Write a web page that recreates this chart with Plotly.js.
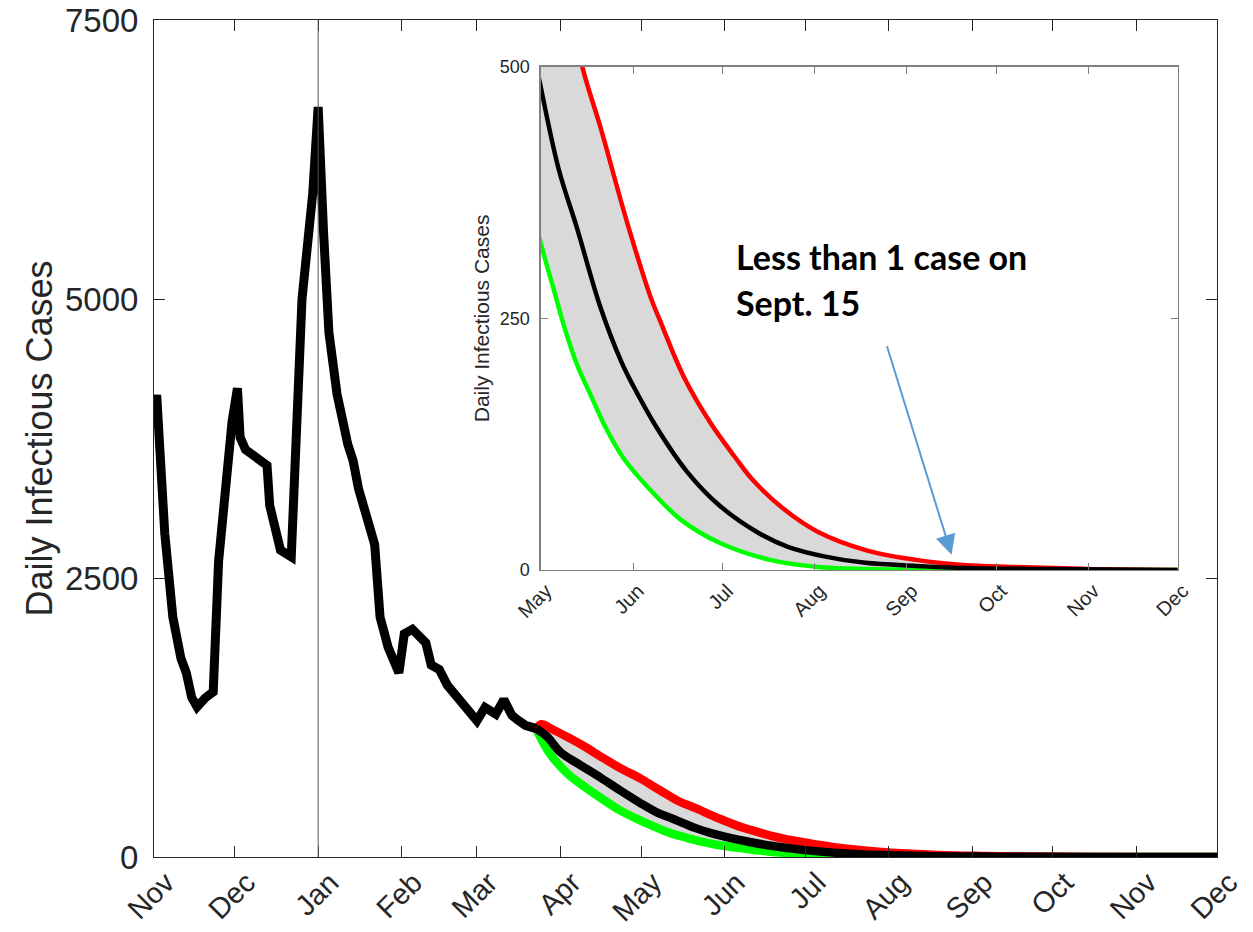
<!DOCTYPE html>
<html><head><meta charset="utf-8">
<script src="https://cdn.plot.ly/plotly-3.0.1.min.js"></script>
<style>html,body{margin:0;padding:0;background:#fff}#chart{width:1253px;height:932px}</style>
</head><body><div id="chart"></div>
<script>
// Observed daily infectious cases (black)
const histDates = ['2020-11-01','2020-11-02','2020-11-05','2020-11-08','2020-11-11','2020-11-13','2020-11-15','2020-11-17','2020-11-20','2020-11-23','2020-11-25','2020-11-28','2020-11-30','2020-12-02','2020-12-03','2020-12-05','2020-12-08','2020-12-11','2020-12-13','2020-12-14','2020-12-16','2020-12-18','2020-12-22','2020-12-23','2020-12-24','2020-12-26','2020-12-30','2021-01-01','2021-01-03','2021-01-05','2021-01-08','2021-01-11','2021-01-12','2021-01-14','2021-01-16','2021-01-19','2021-01-22','2021-01-24','2021-01-27','2021-01-31','2021-02-02','2021-02-05','2021-02-07','2021-02-10','2021-02-12','2021-02-15','2021-02-18','2021-02-20','2021-02-24','2021-03-01','2021-03-04','2021-03-08','2021-03-11','2021-03-14','2021-03-16','2021-03-19','2021-03-23'];
const histCases = [3960,4140,2900,2150,1780,1650,1430,1345,1425,1480,2650,3450,3900,4200,3760,3650,3600,3540,3510,3150,2900,2750,2690,3300,4100,5000,5950,6720,5600,4700,4150,3800,3700,3550,3300,3050,2800,2150,1880,1650,2000,2040,2000,1920,1720,1680,1540,1480,1380,1220,1340,1280,1410,1270,1230,1180,1150];

// Projection: median (black)
const midDates = ['2021-03-23','2021-03-27','2021-04-01','2021-04-08','2021-04-16','2021-04-23','2021-05-01','2021-05-07','2021-05-13','2021-05-21','2021-05-28','2021-06-01','2021-06-09','2021-06-19','2021-06-30','2021-07-13','2021-07-23','2021-08-05','2021-08-18','2021-09-04','2021-09-20','2021-10-15','2021-12-01'];
const midCases = [1150,1080,940,830,710,600,479,398,341,261,207,183,141,98,64,37,23,13,7,4,2,1,0];

// Projection: lower bound (green)
const lowDates = ['2021-03-23','2021-03-28','2021-04-04','2021-04-10','2021-04-16','2021-04-23','2021-05-01','2021-05-05','2021-05-09','2021-05-13','2021-05-18','2021-05-23','2021-05-29','2021-06-06','2021-06-17','2021-06-30','2021-07-17','2021-08-02','2021-08-19','2021-09-15','2021-12-01'];
const lowCases = [1150,930,740,630,530,420,324,282,240,205,172,140,110,82,50,27,10,3,1,0,0];

// Projection: upper bound (red)
const highDates = ['2021-03-23','2021-03-25','2021-03-29','2021-04-04','2021-04-10','2021-04-16','2021-04-23','2021-05-01','2021-05-08','2021-05-15','2021-05-21','2021-05-30','2021-06-07','2021-06-10','2021-06-18','2021-06-27','2021-07-05','2021-07-11','2021-07-21','2021-08-02','2021-08-19','2021-09-04','2021-09-20','2021-10-06','2021-10-31','2021-12-01'];
const highCases = [1150,1190,1145,1070,990,900,800,700,598,499,440,345,270,248,192,146,113,90,62,38,19,10,5,3,1,0];

// Axis ticks
const mainTickVals = ['2020-11-01','2020-12-01','2021-01-01','2021-02-01','2021-03-01','2021-04-01','2021-05-01','2021-06-01','2021-07-01','2021-08-01','2021-09-01','2021-10-01','2021-11-01','2021-12-01'];
const mainTickText = ['Nov','Dec','Jan','Feb','Mar','Apr','May','Jun','Jul','Aug','Sep','Oct','Nov','Dec'];
const insetTickVals = ['2021-05-01','2021-06-01','2021-07-01','2021-08-01','2021-09-01','2021-10-01','2021-11-01','2021-12-01'];
const insetTickText = ['May','Jun','Jul','Aug','Sep','Oct','Nov','Dec'];
const mainYTicks = [0,2500,5000,7500];
const insetYTicks = [0,250,500];

const RED='#ff0000', GREEN='#00ff00', BLACK='#000000', BAND='#d9d9d9';
const bandX = highDates.concat(lowDates.slice().reverse());
const bandY = highCases.concat(lowCases.slice().reverse());

function projTraces(xa, ya, w){
  return [
    {x: bandX, y: bandY, xaxis: xa, yaxis: ya, type:'scatter', mode:'lines', fill:'toself', fillcolor: BAND, line:{width:0, color: BAND, shape:'spline', smoothing:1}, hoverinfo:'skip'},
    {x: lowDates, y: lowCases, xaxis: xa, yaxis: ya, type:'scatter', mode:'lines', line:{color: GREEN, width: w, shape:'spline', smoothing:1}},
    {x: highDates, y: highCases, xaxis: xa, yaxis: ya, type:'scatter', mode:'lines', line:{color: RED, width: w, shape:'spline', smoothing:1}},
    {x: midDates, y: midCases, xaxis: xa, yaxis: ya, type:'scatter', mode:'lines', line:{color: BLACK, width: w, shape:'spline', smoothing:1}}
  ];
}

const traces = [].concat(
  projTraces('x','y',8.5),
  [{x: histDates, y: histCases, xaxis:'x', yaxis:'y', type:'scatter', mode:'lines', line:{color: BLACK, width: 9}}],
  projTraces('x2','y2',4.5)
);

const FONT = 'Liberation Sans, Arial, Helvetica, sans-serif';
const layout = {
  width:1253, height:932,
  margin:{l:154, r:36, t:20, b:75},
  paper_bgcolor:'#ffffff', plot_bgcolor:'#ffffff',
  showlegend:false,
  font:{family: FONT, color:'#262626'},
  xaxis:{
    type:'date', domain:[0,1], anchor:'y',
    range:['2020-11-01','2021-12-01'],
    tickmode:'array', tickvals: mainTickVals, ticktext: mainTickText,
    tickangle:-45, tickfont:{size:29, color:'#262626'}, ticklabelshift:12, ticklabelstandoff:-4,
    ticks:'inside', ticklen:11, tickcolor:'#262626',
    showline:true, linecolor:'#262626', linewidth:1, mirror:'ticks',
    showgrid:false, zeroline:false
  },
  yaxis:{
    domain:[0,1], anchor:'x',
    range:[0,7500],
    tickmode:'array', tickvals: mainYTicks,
    tickfont:{size:33, color:'#262626'},
    ticks:'inside', ticklen:11, tickcolor:'#262626', ticklabelstandoff:8,
    showline:true, linecolor:'#262626', linewidth:1, mirror:'ticks',
    showgrid:false, zeroline:false,
    title:{text:'Daily Infectious Cases', font:{size:36, color:'#262626'}, standoff:1}
  },
  xaxis2:{
    type:'date', domain:[0.364,0.963], anchor:'y2',
    range:['2021-05-01','2021-12-01'],
    tickmode:'array', tickvals: insetTickVals, ticktext: insetTickText,
    tickangle:-45, tickfont:{size:20, color:'#262626'}, ticklabelshift:5,
    ticks:'inside', ticklen:7, tickcolor:'#808080',
    showline:true, linecolor:'#808080', linewidth:1.5, mirror:'ticks',
    showgrid:false, zeroline:false
  },
  yaxis2:{
    domain:[0.343,0.944], anchor:'x2',
    range:[0,500],
    tickmode:'array', tickvals: insetYTicks,
    tickfont:{size:18, color:'#262626'},
    ticks:'inside', ticklen:7, tickcolor:'#808080', ticklabelstandoff:6,
    showline:true, linecolor:'#808080', linewidth:1.5, mirror:'ticks',
    showgrid:false, zeroline:false,
    title:{text:'Daily Infectious Cases', font:{size:21, color:'#262626'}, standoff:4}
  },
  shapes:[
    {type:'line', xref:'x', yref:'y domain', x0:'2021-01-01', x1:'2021-01-01', y0:0, y1:1, line:{color:'#555555', width:1}}
  ],
  annotations:[
    {xref:'paper', yref:'paper', x:0.5456, y:0.717, xanchor:'left', yanchor:'middle', showarrow:false,
     text:'<b>Less than 1 case on</b>', font:{family:'Lato, Noto Sans, sans-serif', size:34, color:'#000000'}},
    {xref:'paper', yref:'paper', x:0.5456, y:0.663, xanchor:'left', yanchor:'middle', showarrow:false,
     text:'<b>Sept. 15</b>', font:{family:'Lato, Noto Sans, sans-serif', size:34, color:'#000000'}},
    {xref:'x2', yref:'y2', x:'2021-09-16', y:15, ax:-65, ay:-210, axref:'pixel', ayref:'pixel',
     text:'', showarrow:true, arrowhead:2, arrowsize:2, arrowwidth:2, arrowcolor:'#5b9bd5', standoff:0}
  ]
};

Plotly.newPlot('chart', traces, layout, {displayModeBar:false, staticPlot:true});
</script>
</body></html>
